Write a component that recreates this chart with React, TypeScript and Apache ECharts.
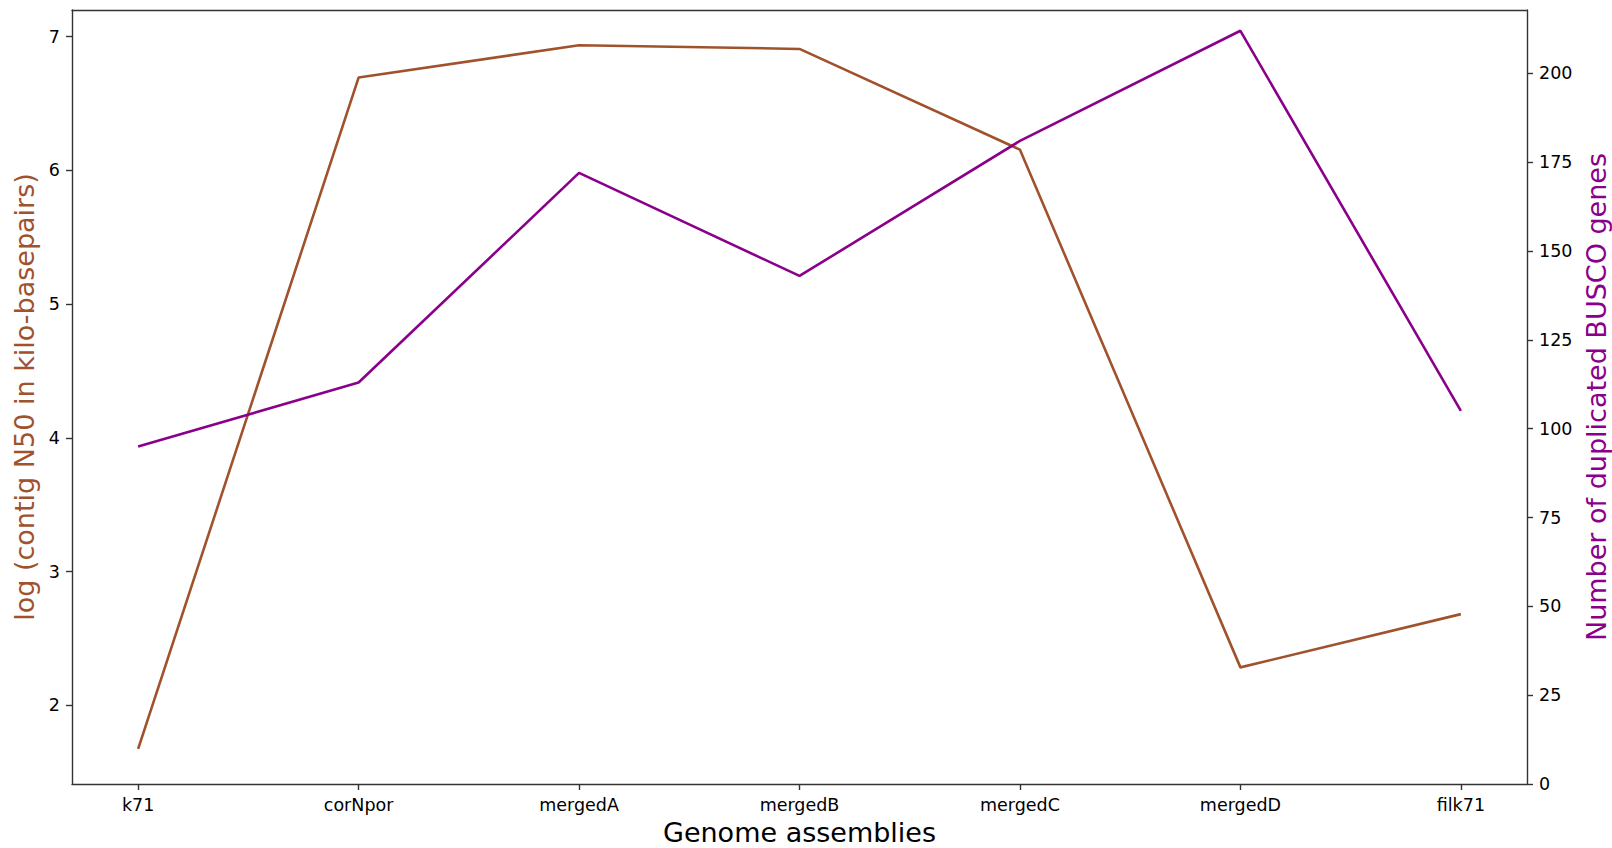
import React, { useEffect, useRef } from "react";
import * as echarts from "echarts";

const categories = ["k71", "corNpor", "mergedA", "mergedB", "mergedC", "mergedD", "filk71"];
const logN50 = [1.675, 6.694, 6.936, 6.908, 6.155, 2.284, 2.682];
const duplicatedBusco = [95, 113, 172, 143, 181, 212, 105];
const leftTicks = [2, 3, 4, 5, 6, 7];
const rightTicks = [0, 25, 50, 75, 100, 125, 150, 175, 200];
const xTicks = [0, 1, 2, 3, 4, 5, 6];

const FONT = "DejaVu Sans";
const AXIS = "#333";

export default function App() {
  const ref = useRef<HTMLDivElement>(null);
  useEffect(() => {
    if (!ref.current) return;
    const chart = echarts.init(ref.current, undefined, { renderer: "svg" });
    const lmin = Math.min(...logN50), lmax = Math.max(...logN50);
    const lpad = (lmax - lmin) * 0.05;
    const rmax = Math.max(...duplicatedBusco), rmin = Math.min(...duplicatedBusco);
    const rpad = (rmax - rmin) * 0.05;
    const n = categories.length;
    const xpad = (n - 1) * 0.05;
    const tickStyle = { show: true, length: 6, inside: false, lineStyle: { color: AXIS, width: 1.4 } };
    chart.setOption({
      animation: false,
      backgroundColor: "#fff",
      textStyle: { fontFamily: FONT },
      grid: { left: 72, right: 85, top: 10, bottom: 64, containLabel: false, outerBoundsMode: "none" },
      xAxis: [
        {
          type: "value",
          min: -xpad,
          max: n - 1 + xpad,
          position: "bottom",
          name: "Genome assemblies",
          nameLocation: "middle",
          nameGap: 34,
          nameTextStyle: { fontSize: 27, color: "#000", fontFamily: FONT },
          axisLine: { show: true, onZero: false, lineStyle: { color: AXIS, width: 1.4 } },
          axisTick: { ...tickStyle, customValues: xTicks },
          axisLabel: {
            customValues: xTicks,
            margin: 12,
            fontSize: 17.5,
            color: "#000",
            fontFamily: FONT,
            formatter: (v: number) => categories[Math.round(v)] ?? "",
          },
          splitLine: { show: false },
        },
        {
          type: "value",
          min: -xpad,
          max: n - 1 + xpad,
          position: "top",
          axisLine: { show: true, onZero: false, lineStyle: { color: AXIS, width: 1.4 } },
          axisTick: { show: false },
          axisLabel: { show: false },
          splitLine: { show: false },
        },
      ],
      yAxis: [
        {
          type: "value",
          position: "left",
          min: lmin - lpad,
          max: lmax + lpad,
          name: "log (contig N50 in kilo-basepairs)",
          nameLocation: "middle",
          nameRotate: 90,
          nameGap: 27,
          nameTextStyle: { fontSize: 27, color: "#A0522D", fontFamily: FONT },
          axisLine: { show: true, onZero: false, lineStyle: { color: AXIS, width: 1.4 } },
          axisTick: { ...tickStyle, customValues: leftTicks },
          axisLabel: { customValues: leftTicks, margin: 12, fontSize: 17.5, color: "#000", fontFamily: FONT },
          splitLine: { show: false },
        },
        {
          type: "value",
          position: "right",
          min: 0,
          max: rmax + rpad,
          name: "Number of duplicated BUSCO genes",
          nameLocation: "middle",
          nameRotate: 90,
          nameGap: 45,
          nameTextStyle: { fontSize: 27, color: "#8B008B", fontFamily: FONT },
          axisLine: { show: true, onZero: false, lineStyle: { color: AXIS, width: 1.4 } },
          axisTick: { ...tickStyle, customValues: rightTicks },
          axisLabel: { customValues: rightTicks, margin: 12, fontSize: 17.5, color: "#000", fontFamily: FONT },
          splitLine: { show: false },
        },
      ],
      series: [
        {
          type: "line",
          name: "log N50",
          xAxisIndex: 0,
          yAxisIndex: 0,
          data: logN50.map((v, i) => [i, v]),
          symbol: "none",
          lineStyle: { color: "#A0522D", width: 2.6 },
          itemStyle: { color: "#A0522D" },
        },
        {
          type: "line",
          name: "Duplicated BUSCO",
          xAxisIndex: 0,
          yAxisIndex: 1,
          data: duplicatedBusco.map((v, i) => [i, v]),
          symbol: "none",
          lineStyle: { color: "#8B008B", width: 2.6 },
          itemStyle: { color: "#8B008B" },
        },
      ],
    });
    return () => chart.dispose();
  }, []);
  return (
    <div
      ref={ref}
      style={{ position: "fixed", left: 0, top: 0, width: 1612, height: 848, background: "#fff" }}
    />
  );
}
